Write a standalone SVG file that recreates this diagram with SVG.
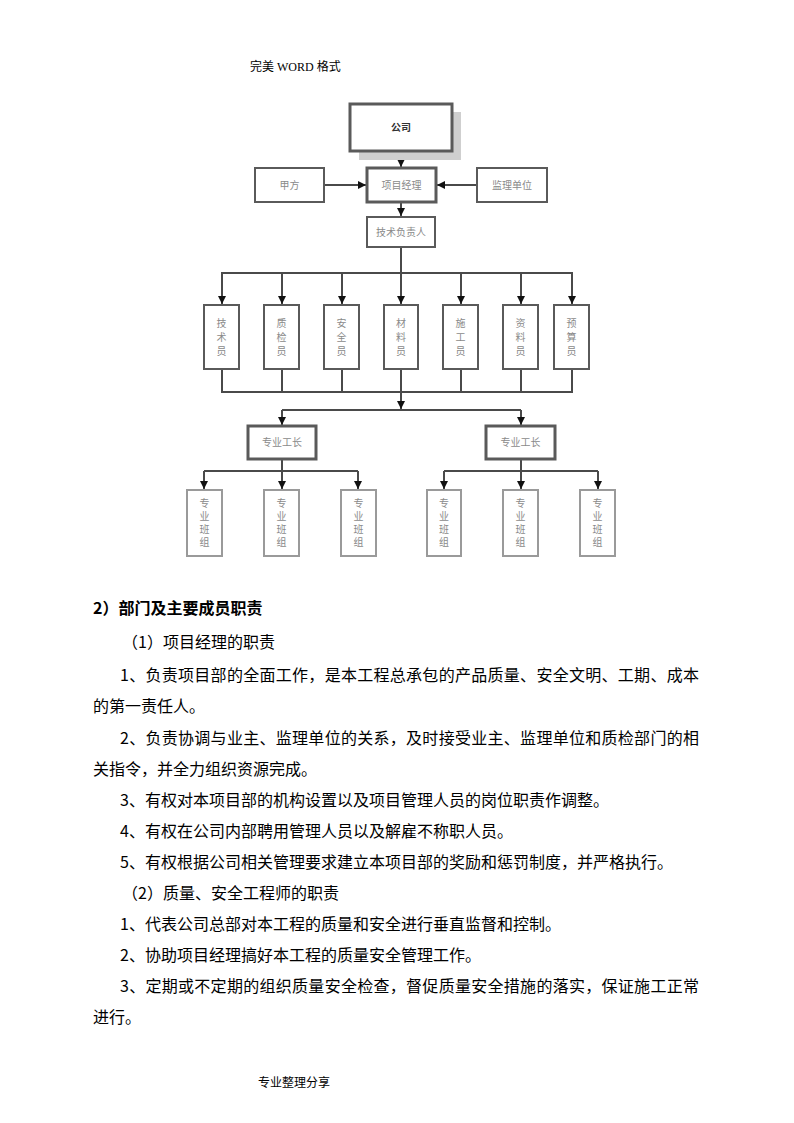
<svg xmlns="http://www.w3.org/2000/svg" width="794" height="1123" viewBox="0 0 794 1123">
<style>
.bg{fill:#fff}
.box{fill:#fff;stroke:#5a5a5a;stroke-width:2}
.thick{fill:#fff;stroke:#5a5a5a;stroke-width:3}
.light{fill:#fff;stroke:#9a9a9a;stroke-width:2}
.shadow{fill:#cfcfcf}
.lbl{font-family:"Noto Sans CJK SC",sans-serif;font-size:10px;fill:#8a8a8a;text-anchor:middle}
.lblk{font-family:"Noto Sans CJK SC",sans-serif;font-size:10px;fill:#333;font-weight:bold;text-anchor:middle}
.conn{fill:none;stroke:#4a4a4a;stroke-width:2}
.body{font-family:"Noto Sans CJK SC",sans-serif;font-size:16px;fill:#000}
.hd{font-family:"Liberation Serif","Noto Sans CJK SC",serif;font-size:12px;fill:#000}
</style>
<defs>
<marker id="ah" markerUnits="userSpaceOnUse" markerWidth="8" markerHeight="8" refX="8" refY="4" orient="auto">
<path d="M0,0 L8,4 L0,8 z" fill="#111"/>
</marker>
</defs>
<rect class="bg" x="0" y="0" width="794" height="1123"/>
<text class="hd" x="250" y="71">完美 WORD 格式</text>

<g id="connectors">
<path class="conn" d="M401,152 V167" marker-end="url(#ah)"/>
<path class="conn" d="M325,185 H366" marker-end="url(#ah)"/>
<path class="conn" d="M477,185 H437" marker-end="url(#ah)"/>
<path class="conn" d="M401,203 V216" marker-end="url(#ah)"/>
<path class="conn" d="M401,247 V304" marker-end="url(#ah)"/>
<path class="conn" d="M222,304 V273 H572 V304"/>
<path class="conn" d="M222,273 V304" marker-end="url(#ah)"/>
<path class="conn" d="M282,273 V304" marker-end="url(#ah)"/>
<path class="conn" d="M342,273 V304" marker-end="url(#ah)"/>
<path class="conn" d="M461,273 V304" marker-end="url(#ah)"/>
<path class="conn" d="M521,273 V304" marker-end="url(#ah)"/>
<path class="conn" d="M572,273 V304" marker-end="url(#ah)"/>
<path class="conn" d="M222,370 V392 H572 V370 M282,370 V392 M342,370 V392 M461,370 V392 M521,370 V392"/>
<path class="conn" d="M401,370 V409" marker-end="url(#ah)"/>
<path class="conn" d="M282,410 H521"/>
<path class="conn" d="M282,410 V425" marker-end="url(#ah)"/>
<path class="conn" d="M521,410 V425" marker-end="url(#ah)"/>
<path class="conn" d="M204,471 H358"/>
<path class="conn" d="M282,460 V489" marker-end="url(#ah)"/>
<path class="conn" d="M204,471 V489" marker-end="url(#ah)"/>
<path class="conn" d="M358,471 V489" marker-end="url(#ah)"/>
<path class="conn" d="M444,471 H598"/>
<path class="conn" d="M521,460 V489" marker-end="url(#ah)"/>
<path class="conn" d="M444,471 V489" marker-end="url(#ah)"/>
<path class="conn" d="M598,471 V489" marker-end="url(#ah)"/>
</g>

<g id="company">
<rect class="shadow" x="359" y="112" width="102" height="48"/>
<rect class="thick" x="350" y="104" width="102" height="47"/>
<text class="lblk" x="401" y="131">公司</text>
</g>
<g id="pm">
<rect class="thick" x="367" y="168" width="69" height="34"/>
<text class="lbl" x="401.5" y="189">项目经理</text>
</g>
<g id="jiafang">
<rect class="box" x="255" y="168" width="69" height="34"/>
<text class="lbl" x="289.5" y="189">甲方</text>
</g>
<g id="jianli">
<rect class="box" x="477" y="168" width="70" height="34"/>
<text class="lbl" x="512" y="189">监理单位</text>
</g>
<g id="jsfzr">
<rect class="box" x="367" y="217" width="68" height="30"/>
<text class="lbl" x="401" y="236">技术负责人</text>
</g>

<g id="n1"><rect class="box" x="204" y="305" width="35" height="64"/><text class="lbl" x="221.5" y="327">技</text><text class="lbl" x="221.5" y="341">术</text><text class="lbl" x="221.5" y="355">员</text></g>
<g id="n2"><rect class="box" x="264" y="305" width="35" height="64"/><text class="lbl" x="281.5" y="327">质</text><text class="lbl" x="281.5" y="341">检</text><text class="lbl" x="281.5" y="355">员</text></g>
<g id="n3"><rect class="box" x="324" y="305" width="35" height="64"/><text class="lbl" x="341.5" y="327">安</text><text class="lbl" x="341.5" y="341">全</text><text class="lbl" x="341.5" y="355">员</text></g>
<g id="n4"><rect class="box" x="384" y="305" width="34" height="64"/><text class="lbl" x="401" y="327">材</text><text class="lbl" x="401" y="341">料</text><text class="lbl" x="401" y="355">员</text></g>
<g id="n5"><rect class="box" x="443" y="305" width="35" height="64"/><text class="lbl" x="460.5" y="327">施</text><text class="lbl" x="460.5" y="341">工</text><text class="lbl" x="460.5" y="355">员</text></g>
<g id="n6"><rect class="box" x="503" y="305" width="35" height="64"/><text class="lbl" x="520.5" y="327">资</text><text class="lbl" x="520.5" y="341">料</text><text class="lbl" x="520.5" y="355">员</text></g>
<g id="n7"><rect class="box" x="554" y="305" width="35" height="64"/><text class="lbl" x="571.5" y="327">预</text><text class="lbl" x="571.5" y="341">算</text><text class="lbl" x="571.5" y="355">员</text></g>

<g id="gz1"><rect class="thick" x="248" y="426" width="68" height="33"/><text class="lbl" x="282" y="446">专业工长</text></g>
<g id="gz2"><rect class="thick" x="486" y="426" width="69" height="33"/><text class="lbl" x="520.5" y="446">专业工长</text></g>

<g id="bz1"><rect class="light" x="187" y="490" width="35" height="66"/><text class="lbl" x="204.5" y="507">专</text><text class="lbl" x="204.5" y="520">业</text><text class="lbl" x="204.5" y="533">班</text><text class="lbl" x="204.5" y="546">组</text></g>
<g id="bz2"><rect class="light" x="264" y="490" width="35" height="66"/><text class="lbl" x="281.5" y="507">专</text><text class="lbl" x="281.5" y="520">业</text><text class="lbl" x="281.5" y="533">班</text><text class="lbl" x="281.5" y="546">组</text></g>
<g id="bz3"><rect class="light" x="341" y="490" width="35" height="66"/><text class="lbl" x="358.5" y="507">专</text><text class="lbl" x="358.5" y="520">业</text><text class="lbl" x="358.5" y="533">班</text><text class="lbl" x="358.5" y="546">组</text></g>
<g id="bz4"><rect class="light" x="427" y="490" width="34" height="66"/><text class="lbl" x="444" y="507">专</text><text class="lbl" x="444" y="520">业</text><text class="lbl" x="444" y="533">班</text><text class="lbl" x="444" y="546">组</text></g>
<g id="bz5"><rect class="light" x="503" y="490" width="35" height="66"/><text class="lbl" x="520.5" y="507">专</text><text class="lbl" x="520.5" y="520">业</text><text class="lbl" x="520.5" y="533">班</text><text class="lbl" x="520.5" y="546">组</text></g>
<g id="bz6"><rect class="light" x="580" y="490" width="35" height="66"/><text class="lbl" x="597.5" y="507">专</text><text class="lbl" x="597.5" y="520">业</text><text class="lbl" x="597.5" y="533">班</text><text class="lbl" x="597.5" y="546">组</text></g>

<g id="text">
<text class="body" x="93" y="614" font-weight="bold">2）部门及主要成员职责</text>
<text class="body" x="122" y="648">（1）项目经理的职责</text>
<text class="body" x="120" y="681" textLength="579" lengthAdjust="spacing">1、负责项目部的全面工作，是本工程总承包的产品质量、安全文明、工期、成本</text>
<text class="body" x="93" y="712">的第一责任人。</text>
<text class="body" x="120" y="744" textLength="579" lengthAdjust="spacing">2、负责协调与业主、监理单位的关系，及时接受业主、监理单位和质检部门的相</text>
<text class="body" x="93" y="775">关指令，并全力组织资源完成。</text>
<text class="body" x="120" y="806">3、有权对本项目部的机构设置以及项目管理人员的岗位职责作调整。</text>
<text class="body" x="120" y="837">4、有权在公司内部聘用管理人员以及解雇不称职人员。</text>
<text class="body" x="120" y="868">5、有权根据公司相关管理要求建立本项目部的奖励和惩罚制度，并严格执行。</text>
<text class="body" x="122" y="899">（2）质量、安全工程师的职责</text>
<text class="body" x="120" y="930">1、代表公司总部对本工程的质量和安全进行垂直监督和控制。</text>
<text class="body" x="120" y="961">2、协助项目经理搞好本工程的质量安全管理工作。</text>
<text class="body" x="120" y="992" textLength="579" lengthAdjust="spacing">3、定期或不定期的组织质量安全检查，督促质量安全措施的落实，保证施工正常</text>
<text class="body" x="93" y="1023">进行。</text>
<text class="hd" x="258" y="1087" font-size="13">专业整理分享</text>
</g>
</svg>
